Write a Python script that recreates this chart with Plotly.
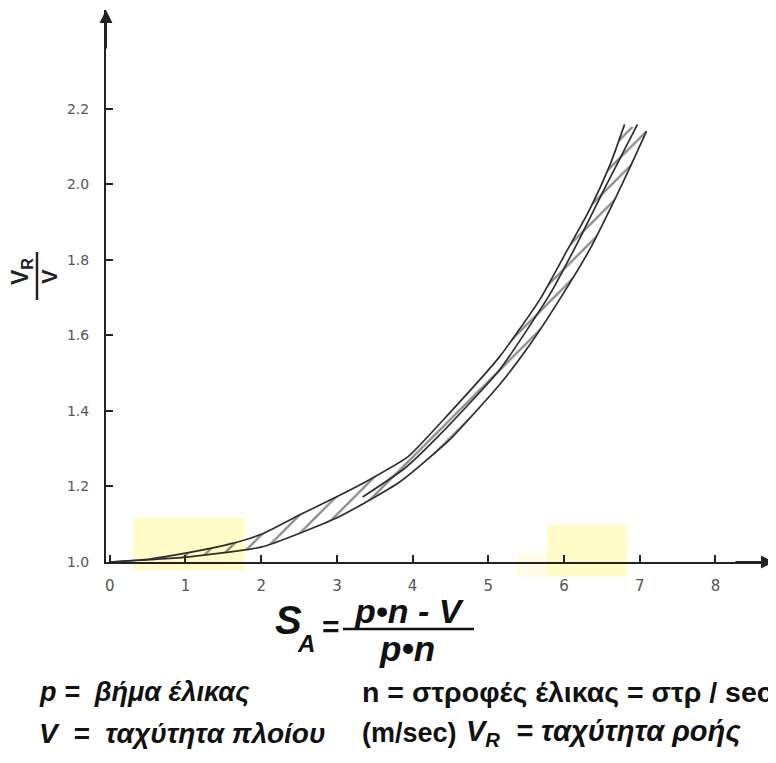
import plotly.graph_objects as go

# ---- data ----
upper_x = [0.0, 0.53, 1.02, 1.59, 2.01, 2.51, 2.99, 3.43, 3.94, 4.49, 5.15, 5.68, 6.01, 6.34, 6.61, 6.80]
upper_y = [1.0, 1.008, 1.024, 1.048, 1.074, 1.125, 1.172, 1.218, 1.279, 1.395, 1.544, 1.695, 1.814, 1.934, 2.053, 2.159]

lower_x = [0.0, 1.02, 2.01, 3.00, 3.83, 4.49, 5.15, 5.55, 5.94, 6.34, 6.67, 6.89, 7.09]
lower_y = [1.0, 1.013, 1.040, 1.117, 1.212, 1.324, 1.470, 1.576, 1.695, 1.828, 1.960, 2.053, 2.141]

middle_x = [3.34, 3.90, 4.46, 5.15, 5.81, 6.20, 6.53, 6.97]
middle_y = [1.172, 1.249, 1.358, 1.509, 1.708, 1.854, 1.987, 2.159]

x_tickvals = [0, 1, 2, 3, 4, 5, 6, 7, 8]
x_ticktext = ["0", "1", "2", "3", "4", "5", "6", "7", "8"]
y_tickvals = [1.0, 1.2, 1.4, 1.6, 1.8, 2.0, 2.2]
y_ticktext = ["1.0", "1.2", "1.4", "1.6", "1.8", "2.0", "2.2"]

INK = "#2e2e2e"
OFF = 8                      # page body margin
W, H = 776 - OFF, 763 - OFF
L, R, T = 106 - OFF, 0, 10 - OFF
PH = 552
B = H - T - PH
PW = W - L - R


def px(xp):
    """reference-screen x pixel -> paper x"""
    return (xp - OFF - L) / PW


def py(yp):
    """reference-screen y pixel -> paper y"""
    return (T + PH - (yp - OFF)) / PH


fig = go.Figure()

band_x = upper_x + lower_x[::-1]
band_y = upper_y + lower_y[::-1]
fig.add_trace(go.Scatter(
    x=band_x, y=band_y, mode="none", fill="toself",
    fillcolor="rgba(255,255,255,0)",
    fillpattern=dict(shape="/", fgcolor="#1a1a1a", bgcolor="rgba(255,255,255,0)",
                     size=13, solidity=0.18, fillmode="overlay"),
    hoverinfo="skip", showlegend=False,
))
for xs, ys in [(upper_x, upper_y), (lower_x, lower_y), (middle_x, middle_y)]:
    fig.add_trace(go.Scatter(
        x=xs, y=ys, mode="lines", line=dict(color=INK, width=1.7, shape="spline", smoothing=0.5),
        hoverinfo="skip", showlegend=False,
    ))

shapes = [
    dict(type="rect", xref="paper", yref="paper", x0=px(133), x1=px(245), y0=py(570), y1=py(518),
         fillcolor="#FFFCC8", line=dict(width=0), layer="below"),
    dict(type="rect", xref="paper", yref="paper", x0=px(547), x1=px(627), y0=py(577), y1=py(525),
         fillcolor="#FFFCC8", line=dict(width=0), layer="below"),
    dict(type="rect", xref="paper", yref="paper", x0=px(517), x1=px(547), y0=py(577), y1=py(553),
         fillcolor="#FFFDE6", line=dict(width=0), layer="below"),
    dict(type="line", xref="paper", yref="paper", x0=px(37), x1=px(37), y0=py(300), y1=py(252),
         line=dict(color="#222", width=2.5)),
    dict(type="line", xref="paper", yref="paper", x0=px(343), x1=px(474), y0=py(629), y1=py(629),
         line=dict(color="#111", width=2.5)),
]

FL = "Liberation Sans"
NB = "\u00a0"


def txt(x, y, s, size, family=FL, xanchor="center", angle=0, color="#111"):
    return dict(xref="paper", yref="paper", x=px(x), y=py(y), showarrow=False,
                xanchor=xanchor, yanchor="middle", textangle=angle, text=s,
                font=dict(family=family, size=size, color=color))


ann = []
ann.append(dict(xref="paper", yref="paper", x=px(106), y=py(10), ax=0, ay=40, showarrow=True,
                arrowhead=2, arrowsize=1.3, arrowwidth=2, arrowcolor="#222", text=""))
ann.append(dict(xref="paper", yref="paper", x=px(774), y=py(562), ax=-40, ay=0, showarrow=True,
                arrowhead=2, arrowsize=1.3, arrowwidth=2, arrowcolor="#222", text=""))
# y axis title  V_R / V
ann.append(txt(21, 272, "<b>V<sub>R</sub></b>", 23, angle=-90, color="#222"))
ann.append(txt(49, 277, "<b>V</b>", 22, angle=-90, color="#222"))
# formula
ann.append(txt(288, 620, "<b><i>S</i></b>", 40))
ann.append(txt(306, 643, "<b><i>A</i></b>", 24))
ann.append(txt(331, 626, "<b>=</b>", 30))
ann.append(txt(409, 611, "<b><i>p•n - V</i></b>", 34))
ann.append(txt(407, 648, "<b><i>p•n</i></b>", 35))
# legend lines
ann.append(txt(37, 692, "<b><i>p" + NB + "=" + NB + NB + "βήμα έλικας</i></b>", 27, xanchor="left"))
ann.append(txt(360, 692, "<b>n = στροφές έλικας = στρ / sec</b>", 28.5, xanchor="left"))
ann.append(txt(37, 733, "<b><i>V" + NB + NB + "=" + NB + NB + "ταχύτητα πλοίου</i></b>", 28, xanchor="left"))
ann.append(txt(360, 733, "<b>(m/sec)</b>", 27, xanchor="left"))
ann.append(txt(464, 733, "<b><i>V<sub>R</sub>" + NB + NB + "=" + NB + "ταχύτητα ροής</i></b>", 29, xanchor="left"))

fig.update_layout(
    width=W, height=H, autosize=False,
    margin=dict(l=L, r=R, t=T, b=B, pad=0),
    paper_bgcolor="white", plot_bgcolor="white",
    shapes=shapes, annotations=ann,
    xaxis=dict(range=[-0.05, 8.8], showgrid=False, zeroline=False, showline=True,
               linecolor="#222", linewidth=2, ticks="inside", ticklen=7, tickwidth=1.5,
               tickcolor="#222", tickvals=x_tickvals, ticktext=x_ticktext,
               tickfont=dict(family="DejaVu Sans", size=15, color="#555"),
               ticklabelstandoff=9),
    yaxis=dict(range=[1.0, 2.462], showgrid=False, zeroline=False, showline=True,
               linecolor="#222", linewidth=2, ticks="inside", ticklen=7, tickwidth=1.5,
               tickcolor="#222", tickvals=y_tickvals, ticktext=y_ticktext,
               tickfont=dict(family="DejaVu Sans", size=14, color="#555"),
               ticklabelstandoff=12),
)

fig.write_html("out.html")
